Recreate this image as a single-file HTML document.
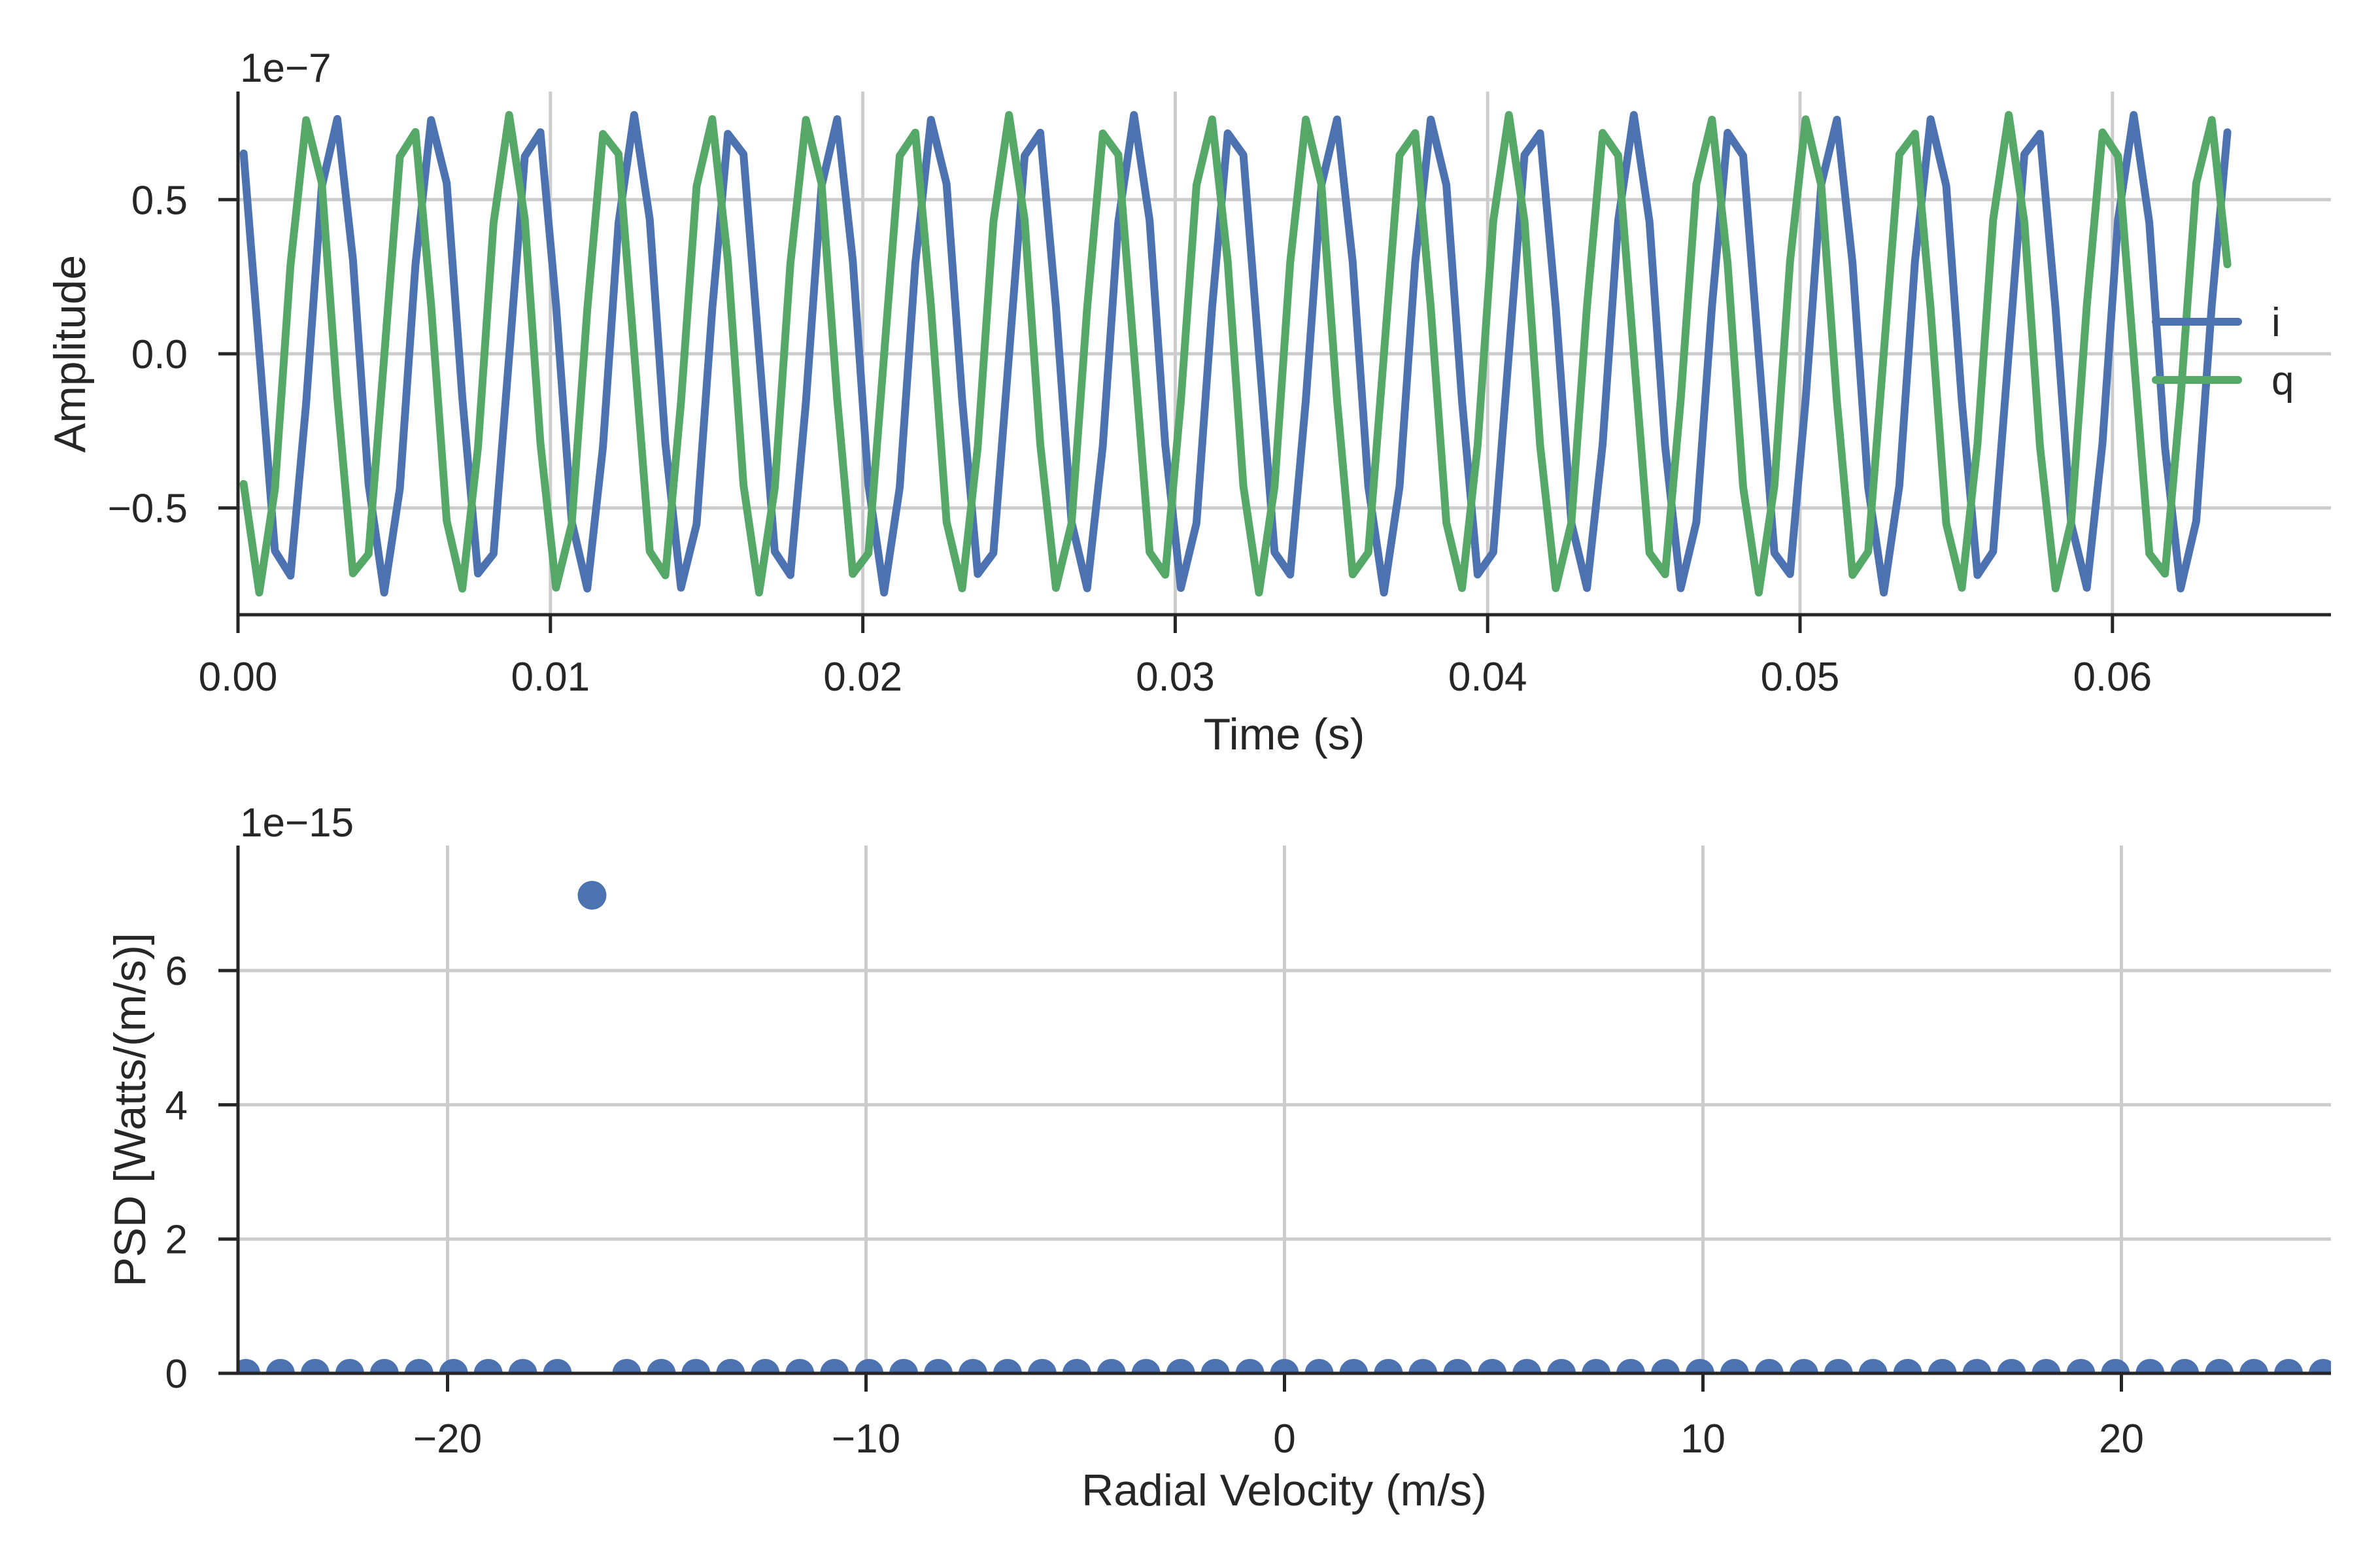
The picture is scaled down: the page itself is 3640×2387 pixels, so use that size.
<!DOCTYPE html>
<html><head><meta charset="utf-8"><style>
html,body{margin:0;padding:0;background:#fff;}
svg{display:block;}
text{font-family:"Liberation Sans",Arial,sans-serif;fill:#262626;}
</style></head><body>
<svg id="s" width="3640" height="2387" viewBox="0 0 3640 2387" xmlns="http://www.w3.org/2000/svg">
<defs><clipPath id="c2"><rect x="364" y="1293" width="3201" height="807"/></clipPath></defs>
<g id="g"></g>
</svg>
<script>
var g=document.getElementById('g'),o='';
var L=364,R=3565;
var T1=140,B1=940;
function ty(v){return 541-v*471.4;}
function tx(t){return 364+t*47780;}
var GC='#cccccc';
[0.5,0,-0.5].forEach(function(v){o+='<line x1="'+L+'" x2="'+R+'" y1="'+ty(v)+'" y2="'+ty(v)+'" stroke="'+GC+'" stroke-width="5"/>';});
for(var k=0;k<=6;k++){var x=tx(k*0.01);o+='<line x1="'+x+'" x2="'+x+'" y1="'+T1+'" y2="'+B1+'" stroke="'+GC+'" stroke-width="5"/>';}
var A=0.775,d=-56.26*Math.PI/180,th0=-33*Math.PI/180,pi='',pq='';
for(var n=0;n<128;n++){var t=0.00018+0.0005*n,th=th0+n*d,x=tx(t).toFixed(1);
pi+=(n?'L':'M')+x+','+ty(A*Math.cos(th)).toFixed(1);
pq+=(n?'L':'M')+x+','+ty(A*Math.sin(th)).toFixed(1);}
o+='<path d="'+pi+'" fill="none" stroke="#4c72b0" stroke-width="12" stroke-linejoin="round" stroke-linecap="round"/>';
o+='<path d="'+pq+'" fill="none" stroke="#55a868" stroke-width="12" stroke-linejoin="round" stroke-linecap="round"/>';
o+='<line x1="3297" x2="3423" y1="492" y2="492" stroke="#4c72b0" stroke-width="12" stroke-linecap="round"/>';
o+='<line x1="3297" x2="3423" y1="581" y2="581" stroke="#55a868" stroke-width="12" stroke-linecap="round"/>';
o+='<text x="3474" y="514" font-size="62">i</text><text x="3474" y="603" font-size="62">q</text>';
o+='<line x1="'+L+'" x2="'+L+'" y1="'+T1+'" y2="'+(B1+2)+'" stroke="#262626" stroke-width="5"/>';
o+='<line x1="'+(L-2)+'" x2="'+R+'" y1="'+B1+'" y2="'+B1+'" stroke="#262626" stroke-width="5"/>';
[[0.5,'0.5'],[0,'0.0'],[-0.5,'\u22120.5']].forEach(function(a){var y=ty(a[0]);
o+='<line x1="334" x2="'+L+'" y1="'+y+'" y2="'+y+'" stroke="#262626" stroke-width="5"/>';
o+='<text x="287" y="'+(y+22)+'" font-size="62" text-anchor="end">'+a[1]+'</text>';});
for(var k=0;k<=6;k++){var x=tx(k*0.01);
o+='<line x1="'+x+'" x2="'+x+'" y1="'+B1+'" y2="'+(B1+28)+'" stroke="#262626" stroke-width="5"/>';
o+='<text x="'+x+'" y="1056" font-size="62" text-anchor="middle">'+(k*0.01).toFixed(2)+'</text>';}
o+='<text x="367" y="125" font-size="62">1e\u22127</text>';
o+='<text x="1964" y="1146" font-size="68" text-anchor="middle">Time (s)</text>';
o+='<text transform="translate(130,541) rotate(-90)" font-size="68" text-anchor="middle">Amplitude</text>';
var T2=1293,B2=2100;
function by(v){return 2100-v*102.65;}
function bx(v){return 1964.5+v*64;}
[2,4,6].forEach(function(v){o+='<line x1="'+L+'" x2="'+R+'" y1="'+by(v)+'" y2="'+by(v)+'" stroke="'+GC+'" stroke-width="5"/>';});
[-20,-10,0,10,20].forEach(function(v){var x=bx(v);o+='<line x1="'+x+'" x2="'+x+'" y1="'+T2+'" y2="'+B2+'" stroke="'+GC+'" stroke-width="5"/>';});
o+='<g clip-path="url(#c2)">';
for(var n=0;n<=62;n++){var x=376+n*52.95;var y=(n==10)?1369:2100;
o+='<circle cx="'+x.toFixed(1)+'" cy="'+y+'" r="22" fill="#4c72b0"/>';}
o+='</g>';
o+='<line x1="'+L+'" x2="'+L+'" y1="'+T2+'" y2="'+(B2+2)+'" stroke="#262626" stroke-width="5"/>';
o+='<line x1="'+(L-2)+'" x2="'+R+'" y1="'+B2+'" y2="'+B2+'" stroke="#262626" stroke-width="5"/>';
[0,2,4,6].forEach(function(v){var y=by(v);
o+='<line x1="334" x2="'+L+'" y1="'+y+'" y2="'+y+'" stroke="#262626" stroke-width="5"/>';
o+='<text x="287" y="'+(y+22)+'" font-size="62" text-anchor="end">'+v+'</text>';});
[-20,-10,0,10,20].forEach(function(v){var x=bx(v);
o+='<line x1="'+x+'" x2="'+x+'" y1="'+B2+'" y2="'+(B2+28)+'" stroke="#262626" stroke-width="5"/>';
o+='<text x="'+x+'" y="2221" font-size="62" text-anchor="middle">'+(v<0?'\u2212'+(-v):v)+'</text>';});
o+='<text x="367" y="1279" font-size="62">1e\u221215</text>';
o+='<text x="1964" y="2302" font-size="68" text-anchor="middle">Radial Velocity (m/s)</text>';
o+='<text transform="translate(222,1697) rotate(-90)" font-size="68" text-anchor="middle">PSD [Watts/(m/s)]</text>';
g.innerHTML=o;
</script>
</body></html>
